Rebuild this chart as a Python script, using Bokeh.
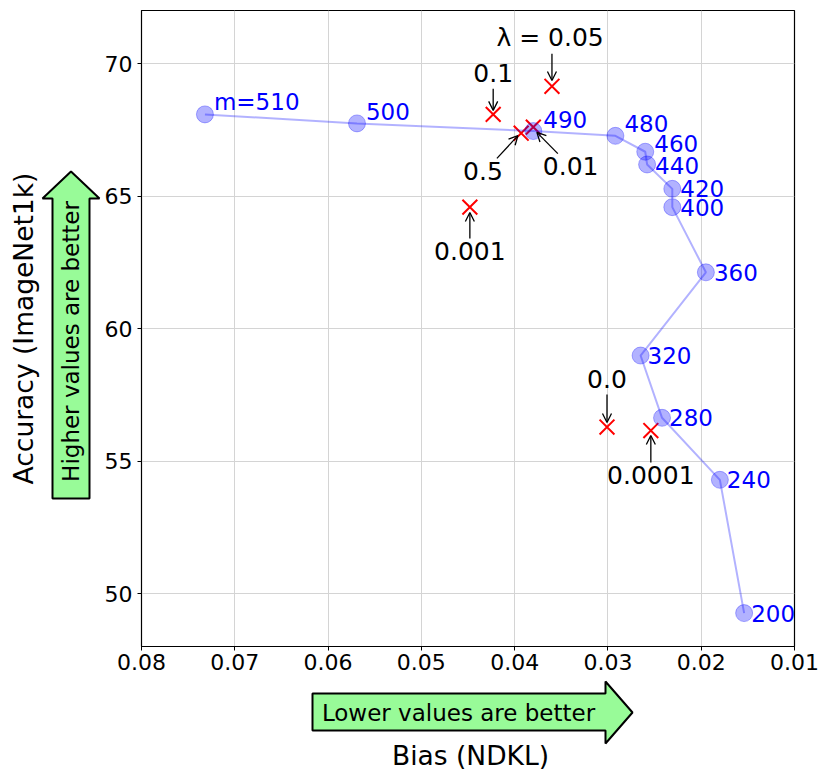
import math
from bokeh.plotting import figure
from bokeh.layouts import row, column
from bokeh.models import (Range1d, FixedTicker, PrintfTickFormatter, Arrow, OpenHead,
                          ColumnDataSource)
from bokeh.core.properties import value
from bokeh.embed import file_html
from bokeh.resources import INLINE

# ---- data: memory size sweep (blue) ----
m_labels = ["m=510", "500", "490", "480", "460", "440", "420", "400", "360", "320", "280", "240", "200"]
m_bias = [0.0732, 0.0569, 0.0380, 0.0292, 0.0260, 0.0258, 0.0231, 0.0231, 0.0195, 0.0265, 0.0242, 0.0180, 0.0154]
m_acc = [68.08, 67.74, 67.45, 67.27, 66.67, 66.19, 65.27, 64.58, 62.12, 58.98, 56.63, 54.29, 49.26]

# ---- data: lambda sweep (red x) ----
lam_labels = ["λ = 0.05", "0.1", "0.5", "0.01", "0.001", "0.0", "0.0001"]
lam_bias = [0.0360, 0.0423, 0.0393, 0.0380, 0.0448, 0.0301, 0.0254]
lam_acc = [69.14, 68.08, 67.37, 67.60, 64.58, 56.28, 56.15]

# ---- tick values ----
x_ticks = [0.08, 0.07, 0.06, 0.05, 0.04, 0.03, 0.02, 0.01]
y_ticks = [50, 55, 60, 65, 70]

# ---- annotation layout (text anchors and arrows, data coords) ----
ann_text_x = [0.0362, 0.0423, 0.0434, 0.0340, 0.0448, 0.0301, 0.0254]
ann_text_y = [70.99, 69.63, 65.96, 66.15, 62.94, 58.11, 54.49]
ann_tail_x = [0.0360, 0.0423, 0.0419, 0.03537, 0.0448, 0.0301, 0.0254]
ann_tail_y = [70.37, 69.05, 66.42, 66.60, 63.40, 57.51, 54.94]
ann_head_x = [0.0360, 0.0423, 0.03965, 0.03762, 0.0448, 0.0301, 0.0254]
ann_head_y = [69.36, 68.23, 67.28, 67.40, 64.38, 56.45, 55.96]

# ---- blue label pixel offsets ----
lab_dx = [9, 9, 10, 9, 9, 8, 8, 8, 8, 7, 7, 7, 7]
lab_dy = [-12.5, -11.5, -12, -12, -8, 1, 0, 0, 0, 0, 0, 0, 0]

FONT = "DejaVu Sans"
GREEN = "#98fb98"

LEFT_W, MAIN_W, TOP_H, BOT_H = 101, 721, 680, 92
B_TOP, B_BOT = 10, 34

# ================= main plot =================
p = figure(width=MAIN_W, height=TOP_H, output_backend="svg", toolbar_location=None,
           x_range=Range1d(0.08, 0.01), y_range=Range1d(48, 72),
           min_border_left=39, min_border_right=28, min_border_top=B_TOP, min_border_bottom=B_BOT)

p.outline_line_color = "black"
p.outline_line_width = 1.2
p.background_fill_color = "white"
p.border_fill_color = "white"

for ax in (p.xaxis[0], p.yaxis[0]):
    ax.major_tick_out = 4
    ax.major_tick_in = 0
    ax.minor_tick_out = 0
    ax.minor_tick_in = 0
    ax.major_label_text_font = FONT
    ax.major_label_text_font_size = "22px"
    ax.major_label_text_color = "black"
    ax.axis_line_color = "black"
    ax.major_tick_line_color = "black"
p.xaxis.major_label_standoff = 3
p.yaxis.major_label_standoff = 5

p.xaxis.ticker = FixedTicker(ticks=x_ticks)
p.yaxis.ticker = FixedTicker(ticks=y_ticks)
p.xaxis.formatter = PrintfTickFormatter(format="%.2f")
p.yaxis.formatter = PrintfTickFormatter(format="%d")

p.grid.grid_line_color = "#d4d4d4"
p.grid.grid_line_width = 1

# red lambda crosses
p.scatter(lam_bias, lam_acc, marker="x", size=21, line_color="red", line_width=2)

# blue memory sweep
p.line(m_bias, m_acc, line_color="blue", line_alpha=0.3, line_width=2)
p.scatter(m_bias, m_acc, marker="circle", size=17, fill_color="blue", fill_alpha=0.3,
          line_color="blue", line_alpha=0.3, line_width=1)

msrc = ColumnDataSource(dict(x=m_bias, y=m_acc, t=m_labels, dx=lab_dx, dy=lab_dy))
p.text(x="x", y="y", text="t", x_offset="dx", y_offset="dy", source=msrc,
       text_color="blue", text_font=value(FONT), text_font_size="23px",
       text_align="left", text_baseline="middle")

# lambda annotations
asrc = ColumnDataSource(dict(x=ann_text_x, y=ann_text_y, t=lam_labels))
p.text(x="x", y="y", text="t", source=asrc, text_color="black", text_font=value(FONT),
       text_font_size="25px", text_align="center", text_baseline="middle")
for x0, y0, x1, y1 in zip(ann_tail_x, ann_tail_y, ann_head_x, ann_head_y):
    p.add_layout(Arrow(x_start=x0, y_start=y0, x_end=x1, y_end=y1,
                       line_color="black", line_width=1.3,
                       end=OpenHead(size=9, line_color="black", line_width=1.3)))


def deco(w, h, top=0, bottom=0, y0=None, y1=None):
    f = figure(width=w, height=h, output_backend="svg", toolbar_location=None,
               x_range=Range1d(0, w),
               y_range=Range1d(h - bottom if y0 is None else y0, top if y1 is None else y1),
               x_axis_type=None, y_axis_type=None,
               min_border=0, min_border_left=0, min_border_right=0,
               min_border_top=top, min_border_bottom=bottom)
    f.outline_line_color = None
    f.background_fill_color = "white"
    f.border_fill_color = "white"
    f.grid.visible = False
    return f


# ================= left strip: y label + "higher is better" arrow =================
# (strip frame aligned with the main frame: page rows 10..646)
lp = deco(LEFT_W, TOP_H, top=B_TOP, bottom=B_BOT, y0=TOP_H - B_BOT, y1=B_TOP)
lp.patch([52, 89, 89, 99, 70.5, 42, 52], [498, 498, 198, 198, 171, 198, 198],
         fill_color=GREEN, line_color="black", line_width=2)
lp.text(x=[70.5], y=[341], text=["Higher values are better"], angle=math.pi / 2,
        text_align="center", text_baseline="middle", text_font=value(FONT),
        text_font_size="23px", text_color="black")
lp.text(x=[23], y=[328], text=["Accuracy (ImageNet1k)"], angle=math.pi / 2,
        text_align="center", text_baseline="middle", text_font=value(FONT),
        text_font_size="26.5px", text_color="black")

# ================= bottom strip: "lower is better" arrow + x label =================
bp = deco(LEFT_W + MAIN_W, BOT_H)
bp.patch([312, 605, 605, 632, 605, 605, 312], [50, 50, 63, 32, 1, 13, 13],
         fill_color=GREEN, line_color="black", line_width=2)
bp.text(x=[458], y=[32], text=["Lower values are better"],
        text_align="center", text_baseline="middle", text_font=value(FONT),
        text_font_size="23px", text_color="black")
bp.text(x=[470], y=[75], text=["Bias (NDKL)"],
        text_align="center", text_baseline="middle", text_font=value(FONT),
        text_font_size="26.5px", text_color="black")

layout = column(row(lp, p, spacing=0), bp, spacing=0)

open("out.html", "w").write(file_html(layout, INLINE))
